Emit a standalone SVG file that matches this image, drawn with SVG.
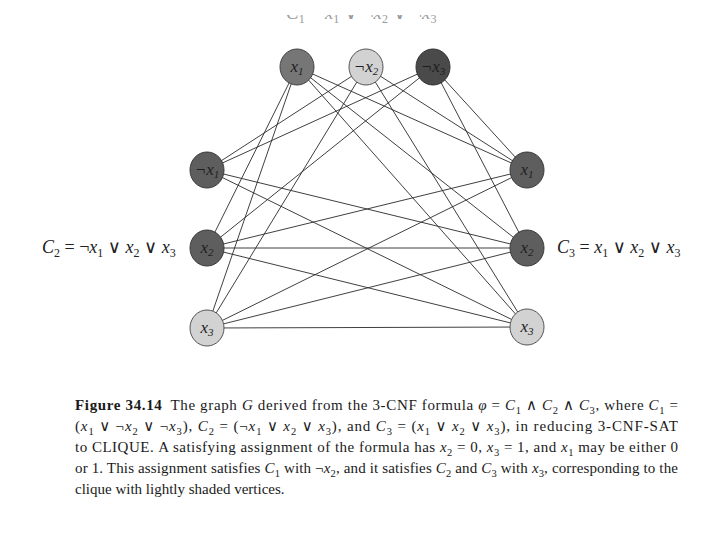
<svg xmlns="http://www.w3.org/2000/svg" width="720" height="540" viewBox="0 0 720 540">
<style>
  .bg { fill: #ffffff; }
  .edge { stroke: #2a2a2a; stroke-width: 0.9; fill: none; }
  .dark { fill: #5e5e5e; stroke: #3a3a3a; stroke-width: 1; }
  .dark2 { fill: #4a4a4a; stroke: #333333; stroke-width: 1; }
  .mid { fill: #767676; stroke: #444444; stroke-width: 1; }
  .light { fill: #d2d2d2; stroke: #555555; stroke-width: 1; }
  .nl { font-family: "Liberation Serif", "DejaVu Serif", serif; font-size: 17px; font-style: italic; text-anchor: middle; fill: #1e1e1e; }
  .nl .s { font-size: 11px; }
  .lab { font-family: "Liberation Serif", "DejaVu Serif", serif; font-size: 18px; fill: #222; }
  .lab .s { font-size: 12px; }
  .top { font-family: "Liberation Serif", "DejaVu Serif", serif; font-size: 19px; fill: #9a9a9a; }
  .top .s { font-size: 12px; }
  .cap { font-family: "Liberation Serif", "DejaVu Serif", serif; font-size: 15px; fill: #1a1a1a; }
  .i { font-style: italic; }
  .b { font-weight: bold; }
  .s { font-size: 10.5px; }
</style>
<defs>
  <clipPath id="topclip"><rect x="0" y="15" width="720" height="20"/></clipPath>
</defs>
<rect class="bg" x="0" y="0" width="720" height="540"/>

<g id="top-formula" clip-path="url(#topclip)">
  <text class="top" x="286" y="19"><tspan class="i">C</tspan><tspan class="s" dy="4">1</tspan><tspan dy="-4"> = </tspan><tspan class="i">x</tspan><tspan class="s" dy="4">1</tspan><tspan dy="-4"> ∨ ¬</tspan><tspan class="i">x</tspan><tspan class="s" dy="4">2</tspan><tspan dy="-4"> ∨ ¬</tspan><tspan class="i">x</tspan><tspan class="s" dy="4">3</tspan></text>
</g>

<g id="connectors">
  <line class="edge" x1="297" y1="67" x2="207" y2="248"/>
  <line class="edge" x1="297" y1="67" x2="207" y2="328"/>
  <line class="edge" x1="366" y1="67" x2="207" y2="170"/>
  <line class="edge" x1="366" y1="67" x2="207" y2="328"/>
  <line class="edge" x1="433" y1="67" x2="207" y2="170"/>
  <line class="edge" x1="433" y1="67" x2="207" y2="248"/>
  <line class="edge" x1="297" y1="67" x2="527" y2="170"/>
  <line class="edge" x1="297" y1="67" x2="527" y2="248"/>
  <line class="edge" x1="297" y1="67" x2="527" y2="327"/>
  <line class="edge" x1="366" y1="67" x2="527" y2="170"/>
  <line class="edge" x1="366" y1="67" x2="527" y2="327"/>
  <line class="edge" x1="433" y1="67" x2="527" y2="170"/>
  <line class="edge" x1="433" y1="67" x2="527" y2="248"/>
  <line class="edge" x1="207" y1="170" x2="527" y2="248"/>
  <line class="edge" x1="207" y1="170" x2="527" y2="327"/>
  <line class="edge" x1="207" y1="248" x2="527" y2="170"/>
  <line class="edge" x1="207" y1="248" x2="527" y2="248"/>
  <line class="edge" x1="207" y1="248" x2="527" y2="327"/>
  <line class="edge" x1="207" y1="328" x2="527" y2="170"/>
  <line class="edge" x1="207" y1="328" x2="527" y2="248"/>
  <line class="edge" x1="207" y1="328" x2="527" y2="327"/>
</g>

<g id="c1-x1">
  <ellipse class="mid" cx="297" cy="67" rx="17" ry="18"/>
  <text class="nl" x="297" y="72">x<tspan class="s" dy="3">1</tspan></text>
</g>
<g id="c1-not-x2">
  <ellipse class="light" cx="366" cy="67" rx="17" ry="18"/>
  <text class="nl" x="366" y="72">¬x<tspan class="s" dy="3">2</tspan></text>
</g>
<g id="c1-not-x3">
  <ellipse class="dark2" cx="433" cy="67" rx="17" ry="18"/>
  <text class="nl" x="433" y="72">¬x<tspan class="s" dy="3">3</tspan></text>
</g>

<g id="c2-not-x1">
  <ellipse class="dark" cx="207" cy="170" rx="17" ry="18"/>
  <text class="nl" x="207" y="175">¬x<tspan class="s" dy="3">1</tspan></text>
</g>
<g id="c2-x2">
  <ellipse class="dark" cx="207" cy="248" rx="17" ry="18"/>
  <text class="nl" x="207" y="253">x<tspan class="s" dy="3">2</tspan></text>
</g>
<g id="c2-x3">
  <ellipse class="light" cx="207" cy="328" rx="17" ry="18"/>
  <text class="nl" x="207" y="333">x<tspan class="s" dy="3">3</tspan></text>
</g>

<g id="c3-x1">
  <ellipse class="dark" cx="527" cy="170" rx="17" ry="18"/>
  <text class="nl" x="527" y="175">x<tspan class="s" dy="3">1</tspan></text>
</g>
<g id="c3-x2">
  <ellipse class="dark" cx="527" cy="248" rx="17" ry="18"/>
  <text class="nl" x="527" y="253">x<tspan class="s" dy="3">2</tspan></text>
</g>
<g id="c3-x3">
  <ellipse class="light" cx="527" cy="327" rx="17" ry="18"/>
  <text class="nl" x="527" y="332">x<tspan class="s" dy="3">3</tspan></text>
</g>

<g id="label-c2">
  <text class="lab" x="42" y="253"><tspan class="i">C</tspan><tspan class="s" dy="4">2</tspan><tspan dy="-4"> = ¬</tspan><tspan class="i">x</tspan><tspan class="s" dy="4">1</tspan><tspan dy="-4"> ∨ </tspan><tspan class="i">x</tspan><tspan class="s" dy="4">2</tspan><tspan dy="-4"> ∨ </tspan><tspan class="i">x</tspan><tspan class="s" dy="4">3</tspan></text>
</g>
<g id="label-c3">
  <text class="lab" x="557" y="253"><tspan class="i">C</tspan><tspan class="s" dy="4">3</tspan><tspan dy="-4"> = </tspan><tspan class="i">x</tspan><tspan class="s" dy="4">1</tspan><tspan dy="-4"> ∨ </tspan><tspan class="i">x</tspan><tspan class="s" dy="4">2</tspan><tspan dy="-4"> ∨ </tspan><tspan class="i">x</tspan><tspan class="s" dy="4">3</tspan></text>
</g>

<g id="caption">
  <text class="cap" x="75" y="410" textLength="603" lengthAdjust="spacing"><tspan class="b">Figure 34.14</tspan><tspan dx="8">The graph </tspan><tspan class="i">G</tspan> derived from the 3-CNF formula <tspan class="i">φ</tspan> = <tspan class="i">C</tspan><tspan class="s" dy="4">1</tspan><tspan dy="-4"> ∧ </tspan><tspan class="i">C</tspan><tspan class="s" dy="4">2</tspan><tspan dy="-4"> ∧ </tspan><tspan class="i">C</tspan><tspan class="s" dy="4">3</tspan><tspan dy="-4">, where </tspan><tspan class="i">C</tspan><tspan class="s" dy="4">1</tspan><tspan dy="-4"> =</tspan></text>
  <text class="cap" x="75" y="431" textLength="603" lengthAdjust="spacing">(<tspan class="i">x</tspan><tspan class="s" dy="4">1</tspan><tspan dy="-4"> ∨ ¬</tspan><tspan class="i">x</tspan><tspan class="s" dy="4">2</tspan><tspan dy="-4"> ∨ ¬</tspan><tspan class="i">x</tspan><tspan class="s" dy="4">3</tspan><tspan dy="-4">), </tspan><tspan class="i">C</tspan><tspan class="s" dy="4">2</tspan><tspan dy="-4"> = (¬</tspan><tspan class="i">x</tspan><tspan class="s" dy="4">1</tspan><tspan dy="-4"> ∨ </tspan><tspan class="i">x</tspan><tspan class="s" dy="4">2</tspan><tspan dy="-4"> ∨ </tspan><tspan class="i">x</tspan><tspan class="s" dy="4">3</tspan><tspan dy="-4">), and </tspan><tspan class="i">C</tspan><tspan class="s" dy="4">3</tspan><tspan dy="-4"> = (</tspan><tspan class="i">x</tspan><tspan class="s" dy="4">1</tspan><tspan dy="-4"> ∨ </tspan><tspan class="i">x</tspan><tspan class="s" dy="4">2</tspan><tspan dy="-4"> ∨ </tspan><tspan class="i">x</tspan><tspan class="s" dy="4">3</tspan><tspan dy="-4">), in reducing 3-CNF-SAT</tspan></text>
  <text class="cap" x="75" y="452" textLength="603" lengthAdjust="spacing">to CLIQUE.<tspan dx="4">A satisfying assignment of the formula has </tspan><tspan class="i">x</tspan><tspan class="s" dy="4">2</tspan><tspan dy="-4"> = 0, </tspan><tspan class="i">x</tspan><tspan class="s" dy="4">3</tspan><tspan dy="-4"> = 1, and </tspan><tspan class="i">x</tspan><tspan class="s" dy="4">1</tspan><tspan dy="-4"> may be either 0</tspan></text>
  <text class="cap" x="75" y="473" textLength="603" lengthAdjust="spacing">or 1. This assignment satisfies <tspan class="i">C</tspan><tspan class="s" dy="4">1</tspan><tspan dy="-4"> with ¬</tspan><tspan class="i">x</tspan><tspan class="s" dy="4">2</tspan><tspan dy="-4">, and it satisfies </tspan><tspan class="i">C</tspan><tspan class="s" dy="4">2</tspan><tspan dy="-4"> and </tspan><tspan class="i">C</tspan><tspan class="s" dy="4">3</tspan><tspan dy="-4"> with </tspan><tspan class="i">x</tspan><tspan class="s" dy="4">3</tspan><tspan dy="-4">, corresponding to the</tspan></text>
  <text class="cap" x="75" y="494">clique with lightly shaded vertices.</text>
</g>
</svg>
